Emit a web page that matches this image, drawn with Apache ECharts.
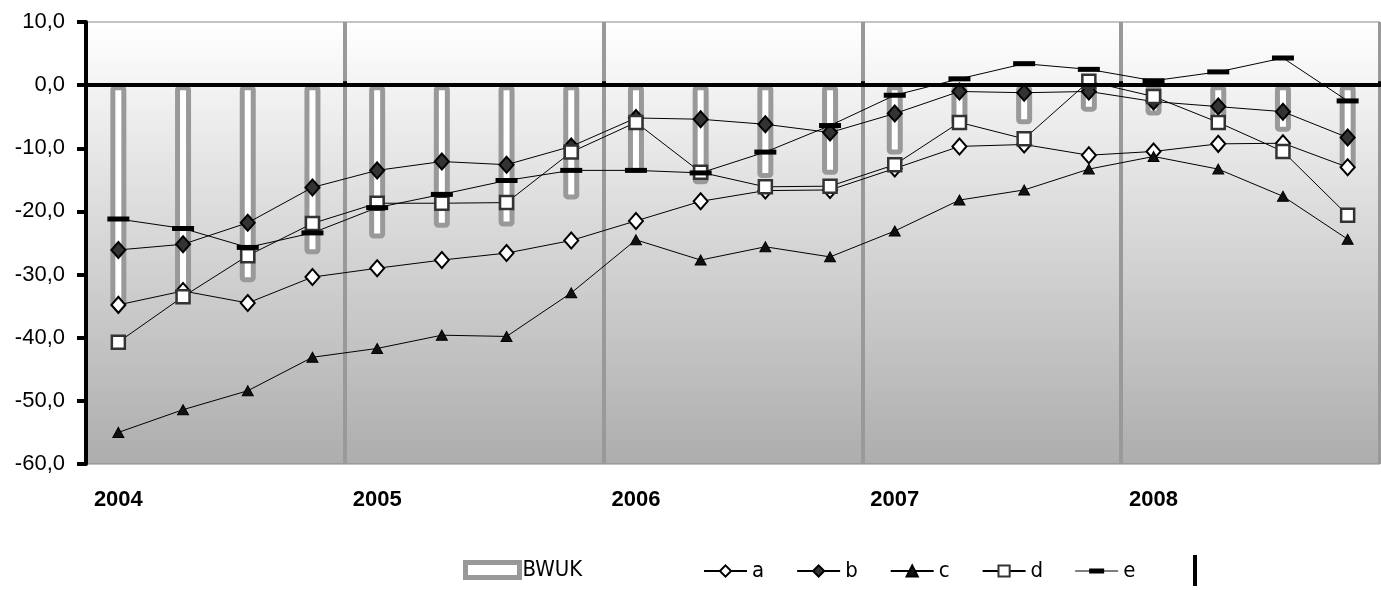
<!DOCTYPE html>
<html>
<head>
<meta charset="utf-8">
<script src="https://cdn.jsdelivr.net/npm/echarts@6/dist/echarts.min.js"></script>
<style>
html,body{margin:0;padding:0;background:#fff;}
#chart{width:1381px;height:590px;}
</style>
</head>
<body>
<div id="chart"></div>
<script>
const categories = ['2004-Q1','2004-Q2','2004-Q3','2004-Q4','2005-Q1','2005-Q2','2005-Q3','2005-Q4','2006-Q1','2006-Q2','2006-Q3','2006-Q4','2007-Q1','2007-Q2','2007-Q3','2007-Q4','2008-Q1','2008-Q2','2008-Q3','2008-Q4'];
const bwuk = [-35.3,-32.7,-31.2,-26.8,-24.3,-22.6,-22.4,-18.1,-13.9,-15.7,-14.7,-14.2,-11.0,-6.5,-6.2,-4.2,-4.8,-6.0,-7.4,-13.6];
const seriesA = [-34.8,-32.6,-34.5,-30.4,-29.0,-27.7,-26.6,-24.6,-21.5,-18.4,-16.7,-16.6,-13.2,-9.7,-9.4,-11.1,-10.5,-9.3,-9.2,-13.0];
const seriesB = [-26.1,-25.2,-21.8,-16.2,-13.5,-12.1,-12.6,-9.7,-5.2,-5.4,-6.2,-7.5,-4.5,-1.0,-1.2,-1.0,-2.6,-3.4,-4.2,-8.3];
const seriesC = [-55.0,-51.4,-48.4,-43.1,-41.7,-39.6,-39.8,-32.9,-24.5,-27.7,-25.6,-27.2,-23.1,-18.2,-16.6,-13.3,-11.3,-13.3,-17.6,-24.4];
const seriesD = [-40.7,-33.5,-27.0,-21.9,-18.7,-18.7,-18.6,-10.6,-5.9,-13.8,-16.1,-16.0,-12.6,-5.9,-8.5,0.6,-1.8,-5.9,-10.5,-20.6];
const seriesE = [-21.2,-22.7,-25.7,-23.4,-19.4,-17.3,-15.1,-13.5,-13.5,-13.9,-10.6,-6.4,-1.6,1.0,3.4,2.5,0.7,2.1,4.3,-2.5];
const yTicks = {min:-60, max:10, interval:10};

const chart = echarts.init(document.getElementById('chart'));
const FONT = 'Liberation Sans, Arial, sans-serif';
const NARROW = '"Liberation Sans Narrow", "Arial Narrow", "DejaVu Sans Condensed", "Liberation Sans", sans-serif';
function lineSeries(name, data, symbol, size, color, borderColor, borderWidth){
  return {
    name, type:'line', data, xAxisIndex:0, yAxisIndex:0,
    symbol, symbolSize:size, showAllSymbol:true,
    lineStyle:{color:'#000', width:1},
    itemStyle:{color, borderColor, borderWidth},
    z:5, animation:false
  };
}
chart.setOption({
  animation:false,
  backgroundColor:'#fff',
  grid:{left:86, right:1, top:22, bottom:126, show:true, borderColor:'#888', borderWidth:1,
    backgroundColor:new echarts.graphic.LinearGradient(0,0,0,1,[{offset:0,color:'#ffffff'},{offset:1,color:'#adadad'}])},
  legend:[
    {data:[{name:'BWUK', icon:'rect', itemStyle:{color:'#fff', borderColor:'#999', borderWidth:5}}],
      left:458, top:554, itemWidth:54, itemHeight:15, itemGap:4,
      textStyle:{fontFamily:NARROW, fontSize:22, color:'#000', padding:[0,0,0,-2]}},
    {data:['a','b','c','d',{name:'e', icon:'path://M0,6H43V7H0Z M14,4H29V9H14Z'}], left:698, top:555, itemWidth:43, itemHeight:14, itemGap:32,
      symbolKeepAspect:true,
      textStyle:{fontFamily:NARROW, fontSize:22, color:'#000'}}
  ],
  xAxis:[
    {type:'category', data:categories, boundaryGap:true,
      axisLine:{show:false, onZero:false}, axisTick:{show:false},
      axisLabel:{interval:3, margin:25, fontFamily:FONT, fontSize:22, fontWeight:'bold', color:'#000',
        formatter:(v)=>v.slice(0,4)},
      splitLine:{show:true, interval:3, lineStyle:{color:'#999', width:4}}},
    {type:'category', data:categories, boundaryGap:true, position:'top', z:10,
      axisLine:{show:true, onZero:true, onZeroAxisIndex:0, lineStyle:{color:'#000', width:4}},
      axisTick:{show:true, interval:3, length:4, lineStyle:{color:'#000', width:4}},
      axisLabel:{show:false}, splitLine:{show:false}}
  ],
  yAxis:{type:'value', min:yTicks.min, max:yTicks.max, interval:yTicks.interval, z:10,
    axisLine:{show:true, onZero:false, lineStyle:{color:'#000', width:4}},
    axisTick:{show:true, length:9, lineStyle:{color:'#000', width:4}},
    axisLabel:{margin:21, fontFamily:FONT, fontSize:22, color:'#000',
      formatter:(v)=>v.toFixed(1).replace('.',',')},
    splitLine:{show:false}},
  series:[
    {name:'BWUK', type:'bar', data:bwuk, barWidth:16,
      itemStyle:{color:'#fff', borderColor:'#999', borderWidth:5, borderRadius:2}, z:2},
    lineSeries('a', seriesA, 'diamond', [14,16], '#fff', '#000', 2),
    lineSeries('b', seriesB, 'diamond', [14,16], '#333', '#000', 2),
    lineSeries('c', seriesC, 'triangle', [11,10], '#111', '#000', 1),
    lineSeries('d', seriesD, 'rect', [13,13], '#fff', '#333', 2.5),
    lineSeries('e', seriesE, 'rect', [22,5], '#000', '#000', 0)
  ],
  graphic:[{type:'rect', shape:{x:1193, y:555, width:4, height:31}, style:{fill:'#000'}}]
});
</script>
</body>
</html>
